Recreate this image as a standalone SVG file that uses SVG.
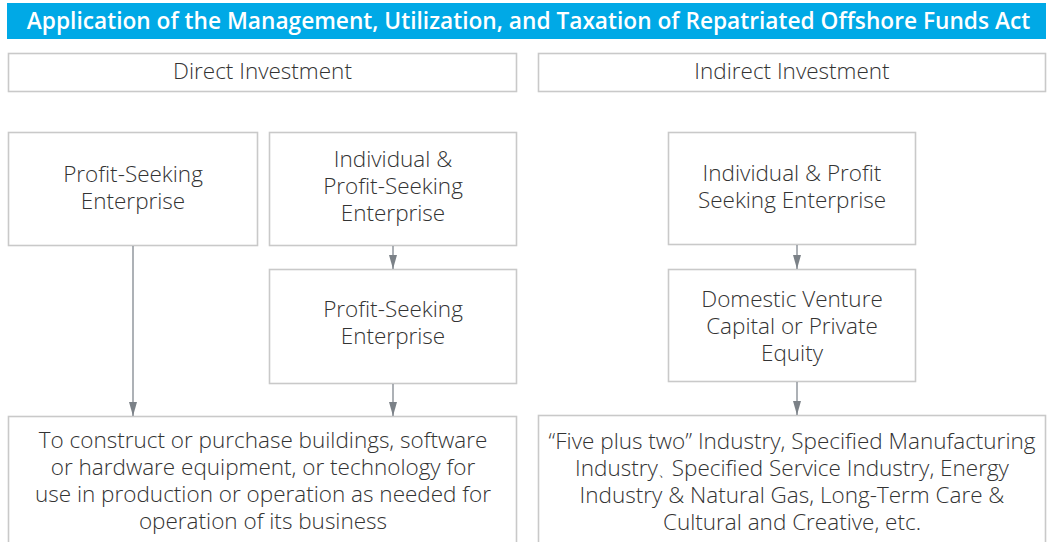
<svg xmlns="http://www.w3.org/2000/svg" width="1048" height="542" viewBox="0 0 1048 542">
<style>
.box{fill:#ffffff;stroke:#c9c9c9;stroke-width:1.6}
.t{font-family:"Open Sans","Noto Sans","Liberation Sans",sans-serif;font-weight:300;font-size:22.5px;fill:#333333;text-anchor:middle}
.title{font-family:"Open Sans","Noto Sans","Liberation Sans",sans-serif;font-weight:600;font-size:22.7px;fill:#ffffff;text-anchor:middle}
.c{stroke:#8a9097;stroke-width:1.4;fill:none;marker-end:url(#ah)}
</style>
<defs>
<marker id="ah" markerUnits="userSpaceOnUse" markerWidth="14" markerHeight="8" refX="14" refY="4" orient="auto">
<path d="M0,0 L14,4 L0,8 Z" fill="#7b8187"/>
</marker>
</defs>
<rect width="1048" height="542" fill="#ffffff"/>
<g id="title">
<rect x="7" y="3" width="1039" height="36" fill="#00a9e6"/>
<text class="title" x="528.5" y="29">Application of the Management, Utilization, and Taxation of Repatriated Offshore Funds Act</text>
</g>
<g id="direct">
<rect class="box" x="8.5" y="53.5" width="508" height="38"/>
<text class="t" x="262.5" y="79">Direct Investment</text>
</g>
<g id="indirect">
<rect class="box" x="538.5" y="53.5" width="507" height="38"/>
<text class="t" x="792" y="79">Indirect Investment</text>
</g>
<g id="pse1">
<rect class="box" x="8.5" y="132.5" width="249" height="113"/>
<text class="t" x="133" y="182">Profit-Seeking</text>
<text class="t" x="133" y="209">Enterprise</text>
</g>
<g id="ipse">
<rect class="box" x="269.5" y="132.5" width="247" height="113"/>
<text class="t" x="393" y="167">Individual &amp;</text>
<text class="t" x="393" y="194">Profit-Seeking</text>
<text class="t" x="393" y="221">Enterprise</text>
</g>
<g id="pse2">
<rect class="box" x="269.5" y="269.5" width="247" height="114"/>
<text class="t" x="393" y="317">Profit-Seeking</text>
<text class="t" x="393" y="344">Enterprise</text>
</g>
<g id="ipse2">
<rect class="box" x="668.5" y="132.5" width="247" height="112"/>
<text class="t" x="792" y="181">Individual &amp; Profit</text>
<text class="t" x="792" y="208">Seeking Enterprise</text>
</g>
<g id="dvc">
<rect class="box" x="668.5" y="269.5" width="247" height="112"/>
<text class="t" x="792" y="307">Domestic Venture</text>
<text class="t" x="792" y="334">Capital or Private</text>
<text class="t" x="792" y="361">Equity</text>
</g>
<g id="use">
<rect class="box" x="8.5" y="416.5" width="508" height="140"/>
<text class="t" x="263" y="448">To construct or purchase buildings, software</text>
<text class="t" x="263" y="475">or hardware equipment, or technology for</text>
<text class="t" x="263" y="502">use in production or operation as needed for</text>
<text class="t" x="263" y="529">operation of its business</text>
</g>
<g id="industry">
<rect class="box" x="538.5" y="415.5" width="507" height="140"/>
<text class="t" x="792" y="449">“Five plus two” Industry, Specified Manufacturing</text>
<text class="t" x="792" y="476">Industry<tspan font-size="14px">、</tspan>Specified Service Industry, Energy</text>
<text class="t" x="792" y="503">Industry &amp; Natural Gas, Long-Term Care &amp;</text>
<text class="t" x="792" y="530">Cultural and Creative, etc.</text>
</g>
<g id="connectors">
<line class="c" x1="133" y1="246" x2="133" y2="416"/>
<line class="c" x1="393" y1="246" x2="393" y2="269"/>
<line class="c" x1="393" y1="384" x2="393" y2="416"/>
<line class="c" x1="797" y1="245" x2="797" y2="269"/>
<line class="c" x1="797" y1="382" x2="797" y2="415"/>
</g>
</svg>
